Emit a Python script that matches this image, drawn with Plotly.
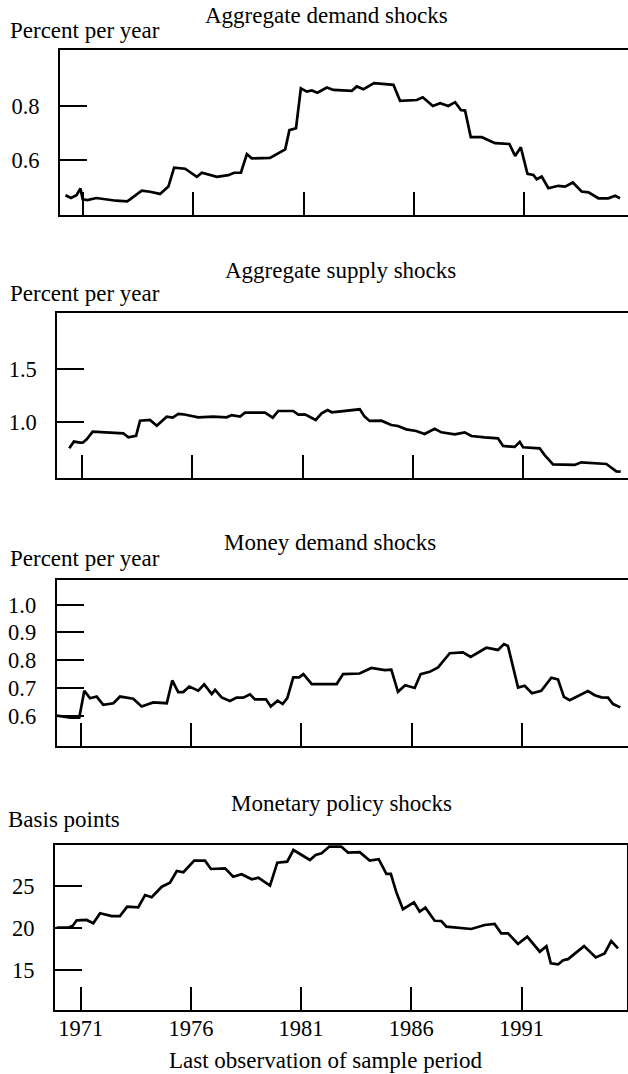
import plotly.graph_objects as go

# ---------------- data ----------------
ad_years = [1970.2, 1970.45, 1970.7, 1970.88, 1970.98, 1971.2, 1971.6, 1972.0, 1972.5, 1973.0,
            1973.13, 1973.66, 1974.04, 1974.49, 1974.87, 1975.13, 1975.63, 1976.16, 1976.39, 1977.07,
            1977.59, 1977.85, 1978.16, 1978.43, 1978.65, 1979.48, 1980.17, 1980.36, 1980.66, 1980.88,
            1981.15, 1981.38, 1981.63, 1982.06, 1982.36, 1983.19, 1983.42, 1983.72, 1984.20, 1985.08,
            1985.38, 1986.14, 1986.41, 1986.87, 1987.20, 1987.57, 1987.88, 1988.14, 1988.33, 1988.59,
            1989.09, 1989.69, 1990.34, 1990.60, 1990.86, 1991.16, 1991.43, 1991.58, 1991.81, 1992.11,
            1992.56, 1992.87, 1993.22, 1993.62, 1993.93, 1994.38, 1994.83, 1995.14, 1995.36]
ad_values = [0.470, 0.460, 0.470, 0.495, 0.455, 0.452, 0.460, 0.455, 0.450, 0.448,
             0.455, 0.487, 0.483, 0.475, 0.502, 0.572, 0.568, 0.538, 0.553, 0.538,
             0.544, 0.553, 0.553, 0.622, 0.606, 0.608, 0.639, 0.710, 0.717, 0.864,
             0.852, 0.856, 0.848, 0.867, 0.858, 0.855, 0.871, 0.861, 0.883, 0.877,
             0.818, 0.821, 0.831, 0.799, 0.809, 0.799, 0.813, 0.784, 0.782, 0.684,
             0.684, 0.662, 0.659, 0.615, 0.647, 0.549, 0.545, 0.529, 0.539, 0.496,
             0.505, 0.502, 0.517, 0.484, 0.481, 0.459, 0.459, 0.468, 0.459]

as_years = [1970.41, 1970.62, 1970.90, 1971.02, 1971.20, 1971.47, 1972.86, 1973.09, 1973.44, 1973.62,
            1974.07, 1974.38, 1974.83, 1975.10, 1975.36, 1975.58, 1976.26, 1976.94, 1977.55, 1977.78,
            1978.16, 1978.38, 1979.29, 1979.64, 1979.89, 1980.57, 1980.80, 1981.10, 1981.59, 1981.86,
            1982.13, 1982.32, 1983.59, 1983.81, 1984.04, 1984.57, 1985.02, 1985.32, 1985.70, 1986.15,
            1986.53, 1986.99, 1987.29, 1987.90, 1988.35, 1988.65, 1989.26, 1989.86, 1990.09, 1990.62,
            1990.85, 1991.00, 1991.75, 1991.98, 1992.36, 1993.34, 1993.64, 1994.78, 1995.23, 1995.43]
as_values = [0.756, 0.819, 0.809, 0.809, 0.841, 0.912, 0.897, 0.859, 0.874, 1.015,
             1.022, 0.968, 1.053, 1.044, 1.078, 1.075, 1.047, 1.053, 1.047, 1.068,
             1.053, 1.090, 1.090, 1.044, 1.106, 1.106, 1.072, 1.075, 1.022, 1.084,
             1.115, 1.094, 1.122, 1.053, 1.013, 1.015, 0.975, 0.965, 0.934, 0.918,
             0.890, 0.940, 0.906, 0.887, 0.906, 0.871, 0.859, 0.850, 0.778, 0.769,
             0.816, 0.766, 0.756, 0.693, 0.606, 0.600, 0.625, 0.609, 0.540, 0.537]

md_years = [1969.90, 1970.42, 1970.53, 1970.92, 1971.15, 1971.41, 1971.71, 1972.01, 1972.47, 1972.77,
            1973.37, 1973.75, 1974.28, 1974.89, 1975.14, 1975.41, 1975.64, 1975.91, 1976.32, 1976.59,
            1976.93, 1977.08, 1977.38, 1977.76, 1978.06, 1978.36, 1978.67, 1978.89, 1979.39, 1979.61,
            1979.92, 1980.15, 1980.36, 1980.63, 1980.90, 1981.09, 1981.47, 1982.60, 1982.89, 1983.64,
            1984.17, 1984.78, 1985.08, 1985.38, 1985.71, 1986.14, 1986.41, 1986.82, 1987.20, 1987.73,
            1988.33, 1988.68, 1989.39, 1989.92, 1990.19, 1990.37, 1990.83, 1991.13, 1991.46, 1991.88,
            1992.34, 1992.64, 1992.91, 1993.17, 1994.00, 1994.31, 1994.61, 1994.91, 1995.14, 1995.47]
md_values = [0.600, 0.596, 0.593, 0.593, 0.690, 0.663, 0.669, 0.639, 0.645, 0.669,
             0.661, 0.633, 0.648, 0.645, 0.727, 0.685, 0.685, 0.705, 0.690, 0.713,
             0.678, 0.693, 0.666, 0.653, 0.665, 0.665, 0.677, 0.659, 0.659, 0.633,
             0.654, 0.642, 0.663, 0.738, 0.738, 0.750, 0.714, 0.714, 0.750, 0.752,
             0.772, 0.764, 0.766, 0.686, 0.710, 0.700, 0.750, 0.758, 0.774, 0.825,
             0.828, 0.812, 0.845, 0.837, 0.858, 0.851, 0.701, 0.708, 0.681, 0.690,
             0.737, 0.731, 0.668, 0.656, 0.689, 0.674, 0.666, 0.665, 0.642, 0.630]

mp_years = [1969.91, 1970.44, 1970.64, 1970.82, 1971.27, 1971.57, 1971.88, 1972.41, 1972.78, 1973.11,
            1973.61, 1973.92, 1974.22, 1974.68, 1975.05, 1975.36, 1975.66, 1976.15, 1976.64, 1976.91,
            1977.55, 1977.92, 1978.30, 1978.76, 1979.06, 1979.59, 1979.92, 1980.37, 1980.65, 1981.40,
            1981.66, 1981.93, 1982.28, 1982.82, 1983.13, 1983.66, 1984.11, 1984.52, 1984.87, 1985.07,
            1985.32, 1985.62, 1986.12, 1986.38, 1986.64, 1987.06, 1987.36, 1987.59, 1988.72, 1989.33,
            1989.78, 1990.08, 1990.39, 1990.84, 1991.26, 1991.83, 1992.13, 1992.33, 1992.66, 1992.89,
            1993.11, 1993.84, 1994.37, 1994.77, 1995.07, 1995.38]
mp_values = [20.07, 20.07, 20.31, 20.95, 20.99, 20.60, 21.79, 21.46, 21.46, 22.57,
             22.50, 23.96, 23.69, 24.95, 25.43, 26.82, 26.67, 28.05, 28.05, 27.06,
             27.14, 26.14, 26.43, 25.83, 26.02, 25.07, 27.81, 27.93, 29.32, 28.13,
             28.73, 28.93, 29.73, 29.73, 29.01, 29.06, 28.06, 28.23, 26.48, 26.48,
             24.30, 22.27, 23.10, 21.98, 22.46, 20.90, 20.87, 20.19, 19.92, 20.39,
             20.51, 19.40, 19.40, 18.13, 19.00, 17.21, 17.88, 15.82, 15.70, 16.21,
             16.33, 17.88, 16.54, 17.01, 18.48, 17.61]

year_ticks = [1971, 1976, 1981, 1986, 1991]
year_labels = ["1971", "1976", "1981", "1986", "1991"]

ad_ticks = [0.6, 0.8]
ad_tick_labels = ["0.6", "0.8"]
as_ticks = [1.0, 1.5]
as_tick_labels = ["1.0", "1.5"]
md_ticks = [0.6, 0.7, 0.8, 0.9, 1.0]
md_tick_labels = ["0.6", "0.7", "0.8", "0.9", "1.0"]
mp_ticks = [15, 20, 25]
mp_tick_labels = ["15", "20", "25"]

panel_titles = ["Aggregate demand shocks", "Aggregate supply shocks",
                "Money demand shocks", "Monetary policy shocks"]
unit_labels = ["Percent per year", "Percent per year", "Percent per year", "Basis points"]
x_title = "Last observation of sample period"

# ---------------- layout geometry (pixels) ----------------
W, H = 628, 1074
FONT = "Liberation Serif, Times New Roman, serif"
FS = 23      # text size
TFS = 22.5   # tick label size


def fx(p):
    return p / W


def fy(p):
    return 1 - p / H


panels = [
    dict(x=ad_years, y=ad_values, ticks=ad_ticks, labels=ad_tick_labels,
         left=60, right=628, top=50, bottom=215,
         xr=[1969.952, 1995.723], yr=[0.3974, 1.0052], right_line=False,
         title_xy=(326, 15), unit_xy=(8, 30)),
    dict(x=as_years, y=as_values, ticks=as_ticks, labels=as_tick_labels,
         left=57.3, right=628, top=313, bottom=478,
         xr=[1969.866, 1995.760], yr=[0.4775, 2.0253], right_line=False,
         title_xy=(340, 270), unit_xy=(8, 293)),
    dict(x=md_years, y=md_values, ticks=md_ticks, labels=md_tick_labels,
         left=56.7, right=628, top=580, bottom=746,
         xr=[1969.897, 1995.818], yr=[0.4908, 1.089], right_line=False,
         title_xy=(330, 542), unit_xy=(8, 558)),
    dict(x=mp_years, y=mp_values, ticks=mp_ticks, labels=mp_tick_labels,
         left=55, right=627, top=844.5, bottom=1009.5,
         xr=[1969.834, 1995.787], yr=[10.333, 29.976], right_line=True,
         title_xy=(341, 803), unit_xy=(6, 819)),
]

fig = go.Figure()
annotations = []
for i, p in enumerate(panels):
    n = "" if i == 0 else str(i + 1)
    fig.add_trace(go.Scatter(
        x=p["x"], y=p["y"], mode="lines",
        line=dict(color="black", width=2.7),
        xaxis="x" + n, yaxis="y" + n, showlegend=False, hoverinfo="skip",
    ))
    last = (i == 3)
    fig.layout["xaxis" + n] = dict(
        domain=[fx(p["left"]), fx(p["right"])], range=p["xr"], anchor="y" + n,
        showline=True, linecolor="black", linewidth=2, mirror=True,
        ticks="inside", ticklen=23, tickwidth=2, tickcolor="black",
        tickvals=year_ticks, ticktext=year_labels, showticklabels=last,
        tickfont=dict(family=FONT, size=TFS, color="black"),
        ticklabelstandoff=-3,
        showgrid=False, zeroline=False, fixedrange=True,
    )
    fig.layout["yaxis" + n] = dict(
        domain=[fy(p["bottom"]), fy(p["top"])], range=p["yr"], anchor="x" + n,
        showline=True, linecolor="black", linewidth=2, mirror=p["right_line"],
        ticks="inside", ticklen=27, tickwidth=2, tickcolor="black",
        tickvals=p["ticks"], ticktext=p["labels"],
        tickfont=dict(family=FONT, size=TFS, color="black"),
        ticklabelstandoff=14,
        showgrid=False, zeroline=False, fixedrange=True,
    )
    tx, ty = p["title_xy"]
    annotations.append(dict(text=panel_titles[i], x=fx(tx), y=fy(ty), xref="paper", yref="paper",
                            xanchor="center", yanchor="middle", showarrow=False,
                            font=dict(family=FONT, size=FS, color="black")))
    ux, uy = p["unit_xy"]
    annotations.append(dict(text=unit_labels[i], x=fx(ux), y=fy(uy), xref="paper", yref="paper",
                            xanchor="left", yanchor="middle", showarrow=False,
                            font=dict(family=FONT, size=FS, color="black")))

annotations.append(dict(text=x_title, x=fx(325), y=fy(1060), xref="paper", yref="paper",
                        xanchor="center", yanchor="middle", showarrow=False,
                        font=dict(family=FONT, size=FS, color="black")))

fig.update_layout(
    width=W, height=H,
    margin=dict(l=0, r=0, t=0, b=0),
    paper_bgcolor="white", plot_bgcolor="white",
    font=dict(family=FONT, size=FS, color="black"),
    annotations=annotations,
    showlegend=False,
)

fig.write_html("out.html", config={"displayModeBar": False},
               post_script="document.body.style.margin='0';document.body.style.overflow='hidden';")
